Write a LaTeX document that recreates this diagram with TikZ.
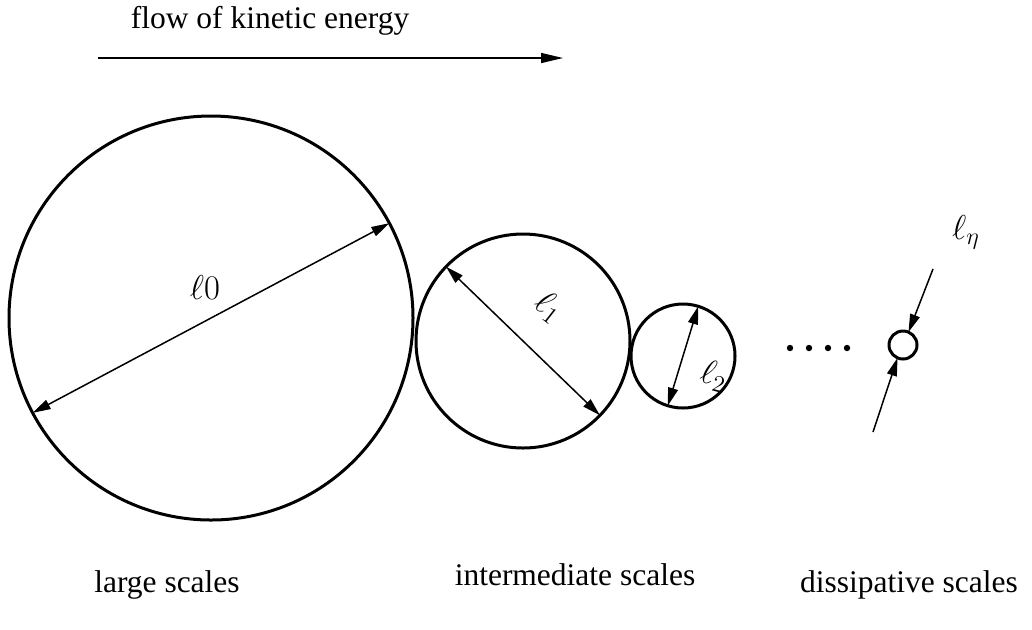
\documentclass[tikz,border=0pt]{standalone}
\usepackage{fontspec}
\setmainfont{Liberation Serif}
\usetikzlibrary{arrows.meta}
\begin{document}
\begin{tikzpicture}[x=0.5pt,y=-0.5pt,
  eddy/.style={circle,draw,line width=1.5pt,inner sep=0pt,outer sep=0pt},
  dimarrow/.style={line width=0.75pt,{Triangle[length=9pt,width=5pt]}-{Triangle[length=9pt,width=5pt]}},
  inarrow/.style={line width=0.75pt,-{Triangle[length=9pt,width=5pt]}},
  lab/.style={font=\fontsize{15.75}{18}\selectfont},
  sym/.style={font=\fontsize{17}{19}\selectfont,inner sep=0pt}]
\useasboundingbox (0,0) rectangle (1032,629);
% flow arrow
\node[lab,anchor=base] (flow) at (270,28) {flow of kinetic energy};
\coordinate (fa) at (98,58);
\coordinate (fb) at (563,58);
\draw[line width=0.75pt,-{Triangle[length=11pt,width=5pt]}] (fa) -- (fb);
% eddies
\node[eddy,minimum size=202pt] (c0) at (211,318) {};
\node[eddy,minimum size=107pt] (c1) at (523,341) {};
\node[eddy,minimum size=52pt] (c2) at (683,356) {};
\node[eddy,minimum size=14pt] (c3) at (903,345) {};
% diameters
\draw[dimarrow] (c0.208) -- (c0.28);
\draw[dimarrow] (c1.136) -- (c1.316);
\draw[dimarrow] (c2.73) -- (c2.253);
\node[sym] (l0) at (205,287) {$\ell 0$};
\node[sym,rotate=-38] (l1) at (549,307) {$\ell_1$};
\node[sym,rotate=-15] (l2) at (714,376) {$\ell_2$};
% dissipative scale
\coordinate (ea) at (933,269);
\coordinate (eb) at (873,432);
\draw[inarrow] (ea) -- (c3.67.5);
\draw[inarrow] (eb) -- (c3.247.5);
\node[sym] (le) at (966,232) {$\ell_\eta$};
% dots
\foreach \x [count=\i] in {790,809,828,847}
  \fill (\x,348) circle (1.6pt) coordinate (d\i);
% scale labels
\node[lab,anchor=base] (large) at (167,592) {large scales};
\node[lab,anchor=base] (inter) at (575,585) {intermediate scales};
\node[lab,anchor=base] (diss) at (909,592) {dissipative scales};
\end{tikzpicture}
\end{document}
